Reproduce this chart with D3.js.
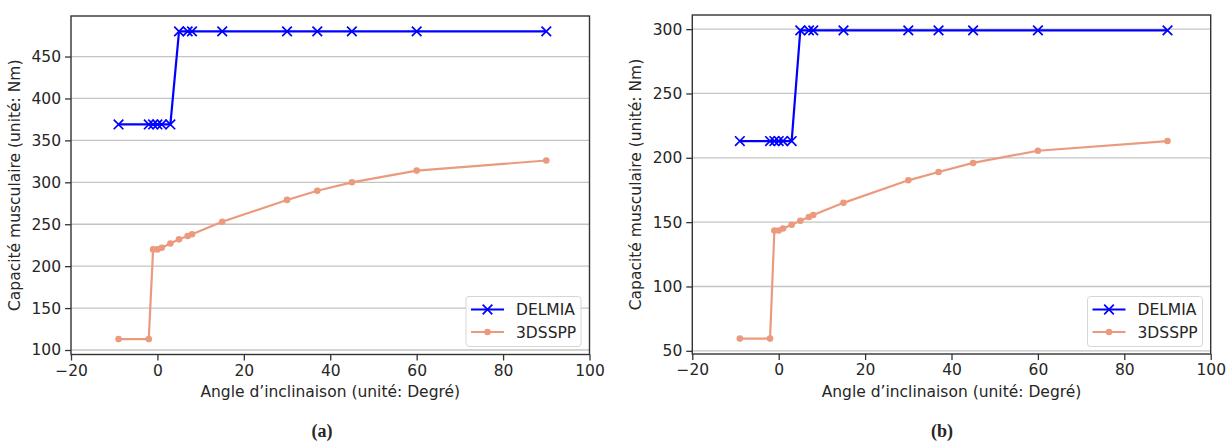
<!DOCTYPE html>
<head>
  <style>
    body { margin: 0; background: #fff; }
    svg text { font-family: "DejaVu Sans", sans-serif; fill: #262626; }
    .grid line { stroke: #c4c4c4; stroke-width: 1.3; }
    .caption { font-family: "Liberation Serif", "Times New Roman", serif; font-weight: bold; }
  </style>
  <script src="https://d3js.org/d3.v7.min.js"></script>
</head>
<body>
<div class="home"></div>
<script>
    // angles shared by both series
    const angles = [-9, -2, -1, 0, 1, 3, 5, 7, 8, 15, 30, 37, 45, 60, 90];

    // panel (a)
    const delmiaA = [369, 369, 369, 369, 369, 369, 480, 480, 480, 480, 480, 480, 480, 480, 480];
    const ssppA = [113, 113, 220, 220, 222, 227, 232, 236, 238, 253, 279, 290, 300, 314, 326];
    const yTicksA = [100, 150, 200, 250, 300, 350, 400, 450];

    // panel (b)
    const delmiaB = [213, 213, 213, 213, 213, 213, 299, 299, 299, 299, 299, 299, 299, 299, 299];
    const ssppB = [59.5, 59.5, 143.5, 143.5, 145, 148, 151, 154, 155.5, 165, 182.5, 189, 196, 205.5, 213];
    const yTicksB = [50, 100, 150, 200, 250, 300];

    const xTicks = [-20, 0, 20, 40, 60, 80, 100];
    const seriesNames = ["DELMIA", "3DSSPP"];

    const width = 1228, height = 441;
    const blue = "#0000ff", salmon = "#eb9a7e";
    const fs = "15.5px";
    const cross = "M-4.8,-4.8L4.8,4.8M-4.8,4.8L4.8,-4.8";

    const svg = d3.select(".home").append("svg")
        .attr("width", width)
        .attr("height", height);

    function drawPanel(p) {
        const x = d3.scaleLinear().domain([-20, 100]).range([p.left, p.right]);
        const all = p.delmia.concat(p.sspp);
        const lo = d3.min(all), hi = d3.max(all), pad = (hi - lo) * 0.05;
        const y = d3.scaleLinear().domain([lo - pad, hi + pad]).range([p.bottom, p.top]);

        const g = svg.append("g");

        // horizontal grid
        g.append("g").attr("class", "grid")
            .selectAll("line").data(p.yTicks).enter().append("line")
            .attr("x1", p.left).attr("x2", p.right)
            .attr("y1", d => y(d)).attr("y2", d => y(d));

        const line = d3.line().x(d => x(d[0])).y(d => y(d[1]));

        // DELMIA
        const dData = angles.map((a, i) => [a, p.delmia[i]]);
        g.append("path").datum(dData)
            .attr("d", line).attr("fill", "none")
            .attr("stroke", blue).attr("stroke-width", 2.2);
        g.selectAll(".xm").data(dData).enter().append("path")
            .attr("class", "xm")
            .attr("d", cross)
            .attr("transform", d => `translate(${x(d[0])},${y(d[1])})`)
            .attr("stroke", blue).attr("stroke-width", 1.7).attr("fill", "none");

        // 3DSSPP
        const sData = angles.map((a, i) => [a, p.sspp[i]]);
        g.append("path").datum(sData)
            .attr("d", line).attr("fill", "none")
            .attr("stroke", salmon).attr("stroke-width", 2.2);
        g.selectAll(".dot").data(sData).enter().append("circle")
            .attr("class", "dot")
            .attr("cx", d => x(d[0])).attr("cy", d => y(d[1])).attr("r", 3.3)
            .attr("fill", salmon);

        // axes
        const xAxis = g.append("g")
            .attr("transform", `translate(0,${p.bottom})`)
            .call(d3.axisBottom(x).tickValues(xTicks).tickSize(6).tickPadding(4)
                .tickFormat(d => d < 0 ? "\u2212" + Math.abs(d) : d));
        const yAxis = g.append("g")
            .attr("transform", `translate(${p.left},0)`)
            .call(d3.axisLeft(y).tickValues(p.yTicks).tickSize(6).tickPadding(4));
        [xAxis, yAxis].forEach(a => {
            a.select(".domain").remove();
            a.selectAll("line").attr("stroke", "#333").attr("stroke-width", 1.3);
            a.selectAll("text").attr("fill", "#262626").style("font-size", fs)
                .style("font-family", "DejaVu Sans");
        });

        // frame
        g.append("rect")
            .attr("x", p.left).attr("y", p.top)
            .attr("width", p.right - p.left).attr("height", p.bottom - p.top)
            .attr("fill", "none").attr("stroke", "#333").attr("stroke-width", 1.4);

        // labels
        g.append("text")
            .attr("x", (p.left + p.right) / 2).attr("y", 397)
            .attr("text-anchor", "middle").style("font-size", fs)
            .text("Angle d\u2019inclinaison (unit\u00e9: Degr\u00e9)");
        g.append("text")
            .attr("transform", `translate(${p.ylabelX},${(p.top + p.bottom) / 2}) rotate(-90)`)
            .attr("text-anchor", "middle").style("font-size", fs)
            .text("Capacit\u00e9 musculaire (unit\u00e9: Nm)");

        // legend
        const lg = g.append("g").attr("transform", `translate(${p.legendX},296.5)`);
        lg.append("rect")
            .attr("width", 115).attr("height", 50).attr("rx", 3)
            .attr("fill", "#fff").attr("fill-opacity", 0.85)
            .attr("stroke", "#d6d6d6").attr("stroke-width", 1);
        seriesNames.forEach((name, i) => {
            const cy = 13 + i * 22.5;
            const col = i === 0 ? blue : salmon;
            lg.append("line").attr("x1", 5).attr("x2", 38).attr("y1", cy).attr("y2", cy)
                .attr("stroke", col).attr("stroke-width", 2.2);
            if (i === 0) {
                lg.append("path").attr("d", cross)
                    .attr("transform", `translate(21.5,${cy})`)
                    .attr("stroke", col).attr("stroke-width", 1.7);
            } else {
                lg.append("circle").attr("cx", 21.5).attr("cy", cy).attr("r", 3.3).attr("fill", col);
            }
            lg.append("text").attr("x", 50).attr("y", cy + 5.5)
                .style("font-size", fs).text(name);
        });

        // caption
        svg.append("text").attr("class", "caption")
            .attr("x", p.captionX).attr("y", 437)
            .attr("text-anchor", "middle").style("font-size", "18px")
            .text(p.caption);
    }

    drawPanel({ left: 71, right: 589.5, top: 16, bottom: 354.5, delmia: delmiaA, sspp: ssppA,
        yTicks: yTicksA, ylabelX: 20, legendX: 466, caption: "(a)", captionX: 322 });
    drawPanel({ left: 692.3, right: 1210.7, top: 15, bottom: 354, delmia: delmiaB, sspp: ssppB,
        yTicks: yTicksB, ylabelX: 641, legendX: 1087.5, caption: "(b)", captionX: 942 });
</script>
</body>
